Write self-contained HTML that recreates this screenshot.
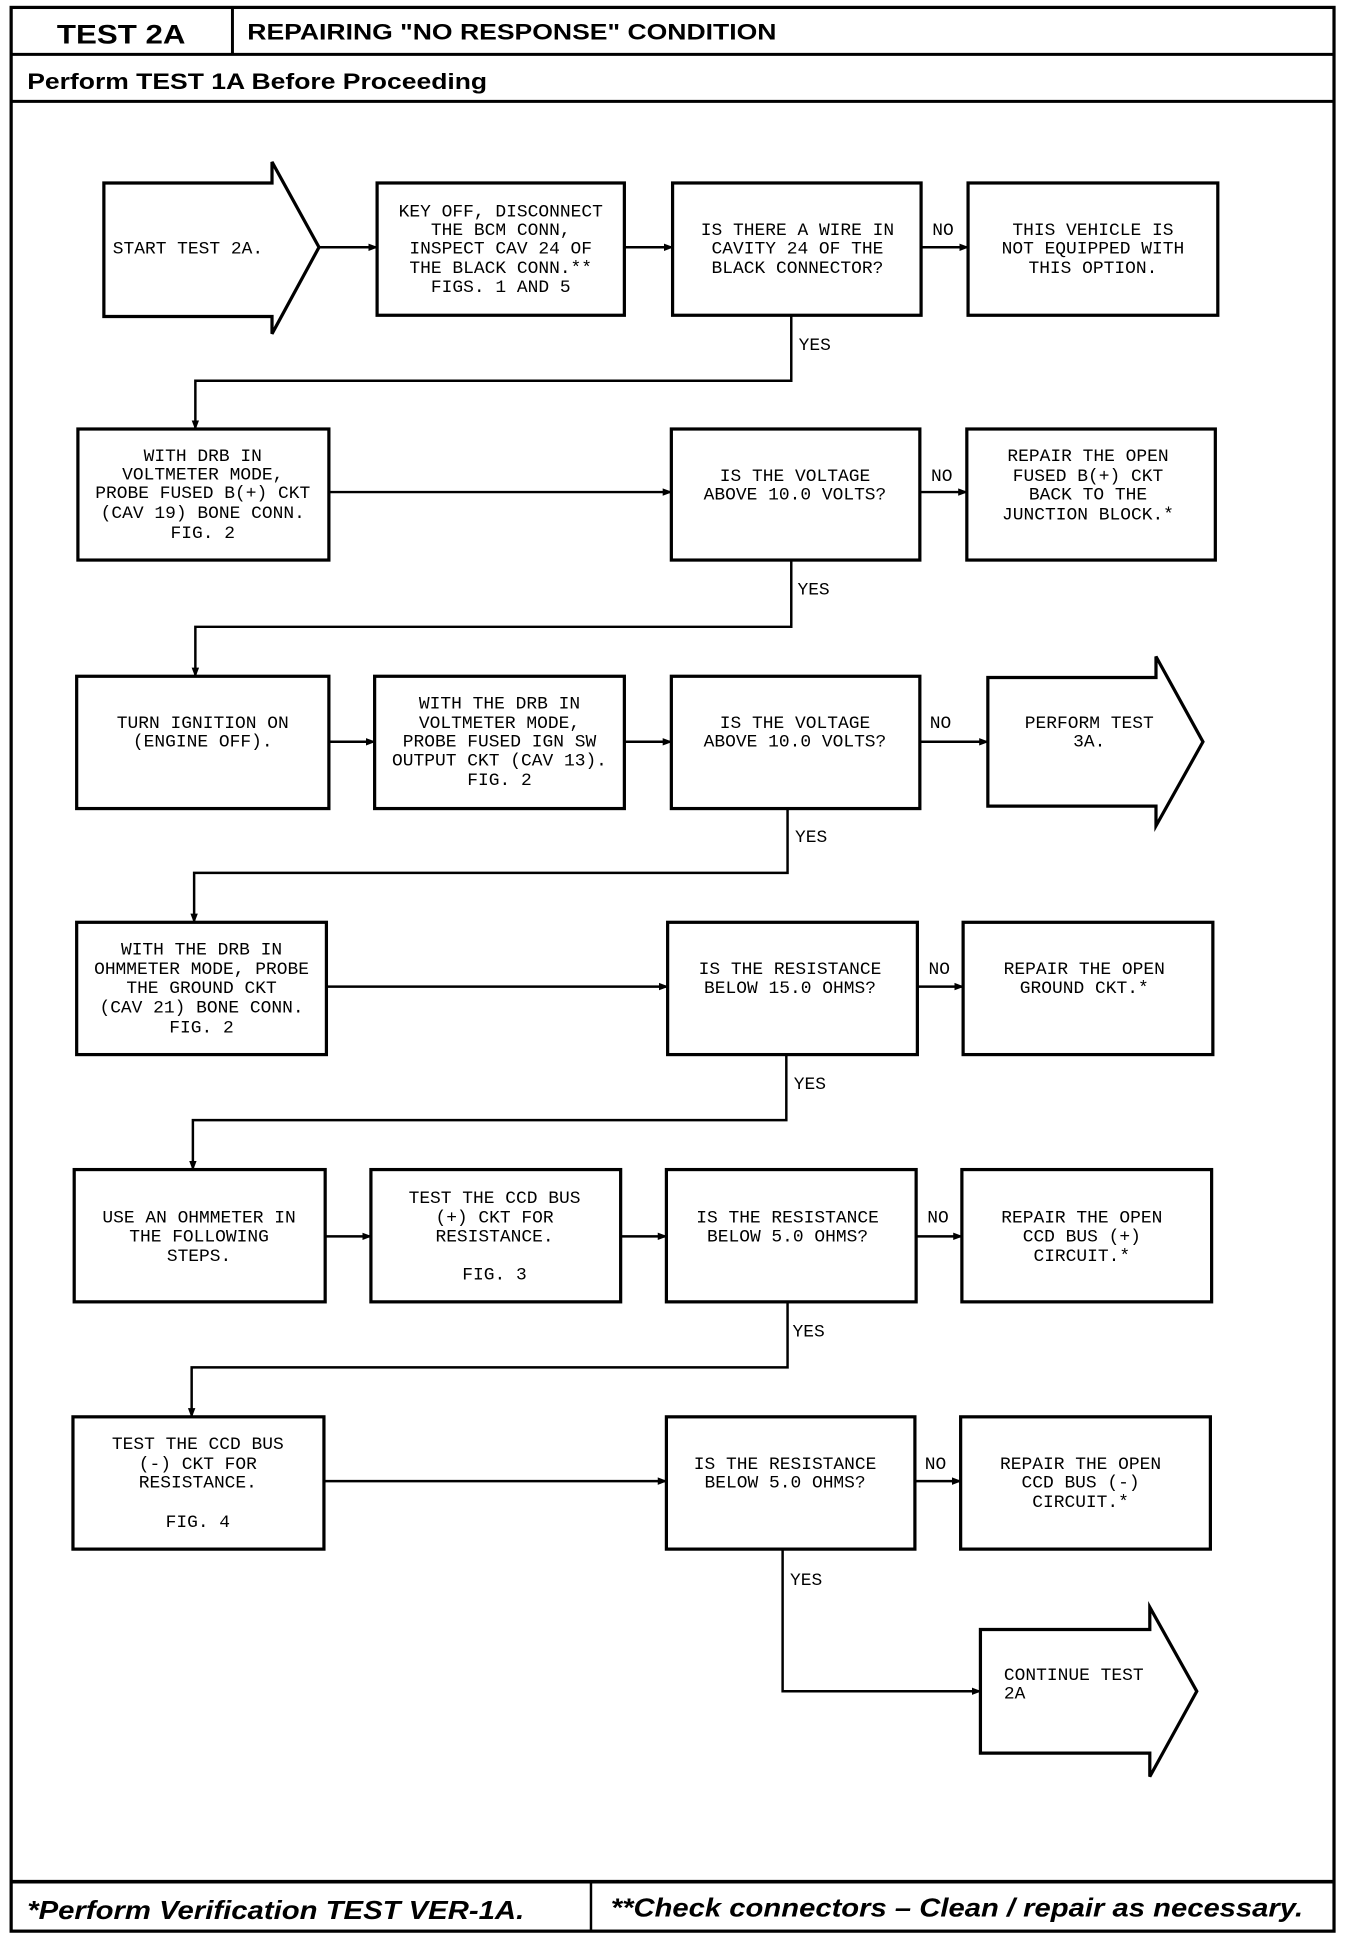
<!DOCTYPE html>
<html><head><meta charset="utf-8"><style>
html,body{margin:0;padding:0;background:#fff;}
svg{display:block;}
.b{fill:#fff;stroke:#000;stroke-width:2.6;}
.l{fill:none;stroke:#000;stroke-width:2;}
.t{font-family:"Liberation Mono",monospace;font-size:14.5px;text-anchor:middle;fill:#000;}
.lb{font-family:"Liberation Mono",monospace;font-size:14.5px;fill:#000;}
.h{font-family:"Liberation Sans",sans-serif;font-weight:bold;fill:#000;}
</style></head><body>
<svg width="1360" height="1944" viewBox="0 0 1100 1572.4" xmlns="http://www.w3.org/2000/svg">
<defs><marker id="a" markerWidth="8" markerHeight="8" refX="7" refY="4" orient="auto" markerUnits="userSpaceOnUse"><path d="M0,1 L8,4 L0,7 z" fill="#000"/></marker></defs>
<rect x="9" y="6" width="1070" height="1556" fill="none" stroke="#000" stroke-width="2.6"/>
<line x1="9" y1="44" x2="1079" y2="44" stroke="#000" stroke-width="2.4"/>
<line x1="188" y1="6" x2="188" y2="44" stroke="#000" stroke-width="2.4"/>
<line x1="9" y1="82" x2="1079" y2="82" stroke="#000" stroke-width="2.4"/>
<line x1="9" y1="1522" x2="1079" y2="1522" stroke="#000" stroke-width="3"/>
<line x1="478" y1="1522" x2="478" y2="1562" stroke="#000" stroke-width="2"/>
<text class="h" x="46" y="35" font-size="22" textLength="104" lengthAdjust="spacingAndGlyphs">TEST 2A</text>
<text class="h" x="200" y="32" font-size="18" textLength="428" lengthAdjust="spacingAndGlyphs">REPAIRING "NO RESPONSE" CONDITION</text>
<text class="h" x="22" y="72" font-size="18" textLength="372" lengthAdjust="spacingAndGlyphs">Perform TEST 1A Before Proceeding</text>
<text class="h" x="22" y="1552" font-size="21" font-style="italic" textLength="402" lengthAdjust="spacingAndGlyphs">*Perform Verification TEST VER-1A.</text>
<text class="h" x="494" y="1550" font-size="21" font-style="italic" textLength="560" lengthAdjust="spacingAndGlyphs">**Check connectors – Clean / repair as necessary.</text>

<!-- Row 1 -->
<path class="b" d="M84,148 L220,148 L220,131 L258,200 L220,270 L220,256 L84,256 Z"/>
<text class="t" x="152" y="205">START TEST 2A.</text>
<rect class="b" x="305" y="148" width="200" height="107"/>
<text class="t" x="405" y="175">KEY OFF, DISCONNECT</text>
<text class="t" x="405" y="190">THE BCM CONN,</text>
<text class="t" x="405" y="205">INSPECT CAV 24 OF</text>
<text class="t" x="405" y="221">THE BLACK CONN.**</text>
<text class="t" x="405" y="236">FIGS. 1 AND 5</text>
<rect class="b" x="544" y="148" width="201" height="107"/>
<text class="t" x="645" y="190">IS THERE A WIRE IN</text>
<text class="t" x="645" y="205">CAVITY 24 OF THE</text>
<text class="t" x="645" y="221">BLACK CONNECTOR?</text>
<rect class="b" x="783" y="148" width="202" height="107"/>
<text class="t" x="884" y="190">THIS VEHICLE IS</text>
<text class="t" x="884" y="205">NOT EQUIPPED WITH</text>
<text class="t" x="884" y="221">THIS OPTION.</text>
<line class="l" x1="258" y1="200" x2="305" y2="200" marker-end="url(#a)"/>
<line class="l" x1="505" y1="200" x2="544" y2="200" marker-end="url(#a)"/>
<line class="l" x1="745" y1="200" x2="783" y2="200" marker-end="url(#a)"/>
<text class="lb" x="754" y="190">NO</text>
<polyline class="l" points="640,255 640,308 158,308 158,347" marker-end="url(#a)"/>
<text class="lb" x="646" y="283">YES</text>

<!-- Row 2 -->
<rect class="b" x="63" y="347" width="203" height="106"/>
<text class="t" x="164" y="373">WITH DRB IN</text>
<text class="t" x="164" y="388">VOLTMETER MODE,</text>
<text class="t" x="164" y="403">PROBE FUSED B(+) CKT</text>
<text class="t" x="164" y="419">(CAV 19) BONE CONN.</text>
<text class="t" x="164" y="435">FIG. 2</text>
<rect class="b" x="543" y="347" width="201" height="106"/>
<text class="t" x="643" y="389">IS THE VOLTAGE</text>
<text class="t" x="643" y="404">ABOVE 10.0 VOLTS?</text>
<rect class="b" x="782" y="347" width="201" height="106"/>
<text class="t" x="880" y="373">REPAIR THE OPEN</text>
<text class="t" x="880" y="389">FUSED B(+) CKT</text>
<text class="t" x="880" y="404">BACK TO THE</text>
<text class="t" x="880" y="420">JUNCTION BLOCK.*</text>
<line class="l" x1="266" y1="398" x2="543" y2="398" marker-end="url(#a)"/>
<line class="l" x1="744" y1="398" x2="782" y2="398" marker-end="url(#a)"/>
<text class="lb" x="753" y="389">NO</text>
<polyline class="l" points="640,453 640,507 158,507 158,547" marker-end="url(#a)"/>
<text class="lb" x="645" y="481">YES</text>

<!-- Row 3 -->
<rect class="b" x="62" y="547" width="204" height="107"/>
<text class="t" x="164" y="589">TURN IGNITION ON</text>
<text class="t" x="164" y="604">(ENGINE OFF).</text>
<rect class="b" x="303" y="547" width="202" height="107"/>
<text class="t" x="404" y="573">WITH THE DRB IN</text>
<text class="t" x="404" y="589">VOLTMETER MODE,</text>
<text class="t" x="404" y="604">PROBE FUSED IGN SW</text>
<text class="t" x="404" y="619">OUTPUT CKT (CAV 13).</text>
<text class="t" x="404" y="635">FIG. 2</text>
<rect class="b" x="543" y="547" width="201" height="107"/>
<text class="t" x="643" y="589">IS THE VOLTAGE</text>
<text class="t" x="643" y="604">ABOVE 10.0 VOLTS?</text>
<path class="b" d="M799,548 L935,548 L935,531 L973,600 L935,668 L935,652 L799,652 Z"/>
<text class="t" x="881" y="589">PERFORM TEST</text>
<text class="t" x="881" y="604">3A.</text>
<line class="l" x1="266" y1="600" x2="303" y2="600" marker-end="url(#a)"/>
<line class="l" x1="505" y1="600" x2="543" y2="600" marker-end="url(#a)"/>
<line class="l" x1="744" y1="600" x2="799" y2="600" marker-end="url(#a)"/>
<text class="lb" x="752" y="589">NO</text>
<polyline class="l" points="637,654 637,706 157,706 157,746" marker-end="url(#a)"/>
<text class="lb" x="643" y="681">YES</text>

<!-- Row 4 -->
<rect class="b" x="62" y="746" width="202" height="107"/>
<text class="t" x="163" y="772">WITH THE DRB IN</text>
<text class="t" x="163" y="788">OHMMETER MODE, PROBE</text>
<text class="t" x="163" y="803">THE GROUND CKT</text>
<text class="t" x="163" y="819">(CAV 21) BONE CONN.</text>
<text class="t" x="163" y="835">FIG. 2</text>
<rect class="b" x="540" y="746" width="202" height="107"/>
<text class="t" x="639" y="788">IS THE RESISTANCE</text>
<text class="t" x="639" y="803">BELOW 15.0 OHMS?</text>
<rect class="b" x="779" y="746" width="202" height="107"/>
<text class="t" x="877" y="788">REPAIR THE OPEN</text>
<text class="t" x="877" y="803">GROUND CKT.*</text>
<line class="l" x1="264" y1="798" x2="540" y2="798" marker-end="url(#a)"/>
<line class="l" x1="742" y1="798" x2="779" y2="798" marker-end="url(#a)"/>
<text class="lb" x="751" y="788">NO</text>
<polyline class="l" points="636,853 636,906 156,906 156,946" marker-end="url(#a)"/>
<text class="lb" x="642" y="881">YES</text>

<!-- Row 5 -->
<rect class="b" x="60" y="946" width="203" height="107"/>
<text class="t" x="161" y="989">USE AN OHMMETER IN</text>
<text class="t" x="161" y="1004">THE FOLLOWING</text>
<text class="t" x="161" y="1020">STEPS.</text>
<rect class="b" x="300" y="946" width="202" height="107"/>
<text class="t" x="400" y="973">TEST THE CCD BUS</text>
<text class="t" x="400" y="989">(+) CKT FOR</text>
<text class="t" x="400" y="1004">RESISTANCE.</text>
<text class="t" x="400" y="1035">FIG. 3</text>
<rect class="b" x="539" y="946" width="202" height="107"/>
<text class="t" x="637" y="989">IS THE RESISTANCE</text>
<text class="t" x="637" y="1004">BELOW 5.0 OHMS?</text>
<rect class="b" x="778" y="946" width="202" height="107"/>
<text class="t" x="875" y="989">REPAIR THE OPEN</text>
<text class="t" x="875" y="1004">CCD BUS (+)</text>
<text class="t" x="875" y="1020">CIRCUIT.*</text>
<line class="l" x1="263" y1="1000" x2="300" y2="1000" marker-end="url(#a)"/>
<line class="l" x1="502" y1="1000" x2="539" y2="1000" marker-end="url(#a)"/>
<line class="l" x1="741" y1="1000" x2="778" y2="1000" marker-end="url(#a)"/>
<text class="lb" x="750" y="989">NO</text>
<polyline class="l" points="637,1053 637,1106 155,1106 155,1146" marker-end="url(#a)"/>
<text class="lb" x="641" y="1081">YES</text>

<!-- Row 6 -->
<rect class="b" x="59" y="1146" width="203" height="107"/>
<text class="t" x="160" y="1172">TEST THE CCD BUS</text>
<text class="t" x="160" y="1188">(-) CKT FOR</text>
<text class="t" x="160" y="1203">RESISTANCE.</text>
<text class="t" x="160" y="1235">FIG. 4</text>
<rect class="b" x="539" y="1146" width="201" height="107"/>
<text class="t" x="635" y="1188">IS THE RESISTANCE</text>
<text class="t" x="635" y="1203">BELOW 5.0 OHMS?</text>
<rect class="b" x="777" y="1146" width="202" height="107"/>
<text class="t" x="874" y="1188">REPAIR THE OPEN</text>
<text class="t" x="874" y="1203">CCD BUS (-)</text>
<text class="t" x="874" y="1219">CIRCUIT.*</text>
<line class="l" x1="262" y1="1198" x2="539" y2="1198" marker-end="url(#a)"/>
<line class="l" x1="740" y1="1198" x2="777" y2="1198" marker-end="url(#a)"/>
<text class="lb" x="748" y="1188">NO</text>
<polyline class="l" points="633,1253 633,1368 793,1368" marker-end="url(#a)"/>
<text class="lb" x="639" y="1282">YES</text>
<path class="b" d="M793,1318 L930,1318 L930,1300 L968,1368 L930,1437 L930,1418 L793,1418 Z"/>
<text class="lb" x="812" y="1359">CONTINUE TEST</text>
<text class="lb" x="812" y="1374">2A</text>
</svg>
</body></html>
